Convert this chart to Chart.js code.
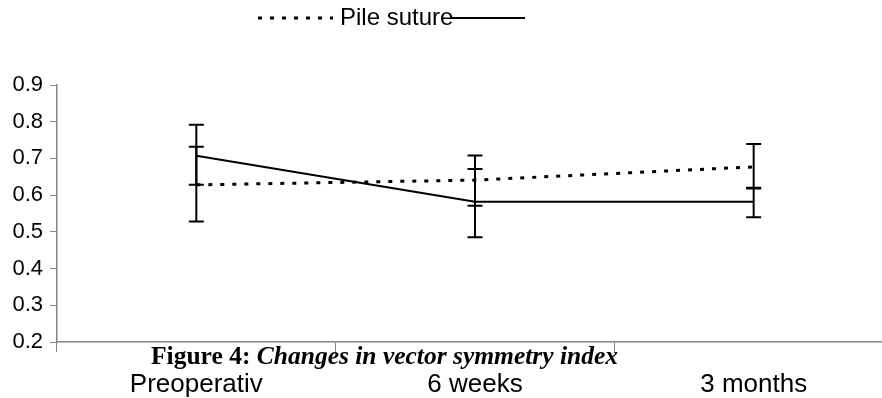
<!DOCTYPE html>
<html>
<head>
<meta charset="utf-8">
<script src="https://cdn.jsdelivr.net/npm/chart.js@4"></script>
<style>
  html, body { margin: 0; padding: 0; background: #fff; overflow: hidden; }
  #wrap { width: 893px; height: 398px; position: relative; }
</style>
</head>
<body>
<div id="wrap"><canvas id="vsi-chart"></canvas></div>
<script>
// categories and values
const categories = ['Preoperativ', '6 weeks', '3 months'];
const yTicks = [0.2, 0.3, 0.4, 0.5, 0.6, 0.7, 0.8, 0.9];

const pileValues = [0.628, 0.641, 0.677];
const pileHigh = [0.732, 0.708, 0.739];
const pileLow = [0.528, 0.571, 0.618];

const otherValues = [0.707, 0.582, 0.582];
const otherHigh = [0.792, 0.671, 0.620];
const otherLow = [0.628, 0.485, 0.540];

const captionBold = 'Figure 4: ';
const captionItalic = 'Changes in vector symmetry index';

const axisGrey = '#858585';

// error bars, drawn through the y scale
const errorBars = {
    id: 'errorBars',
    afterDatasetsDraw(chart) {
        const ctx = chart.ctx;
        const y = chart.scales.y;
        ctx.save();
        ctx.strokeStyle = '#000';
        ctx.lineWidth = 2;
        ctx.setLineDash([]);
        chart.data.datasets.forEach((ds, i) => {
            const meta = chart.getDatasetMeta(i);
            meta.data.forEach((pt, j) => {
                const top = y.getPixelForValue(ds.errHigh[j]);
                const bot = y.getPixelForValue(ds.errLow[j]);
                ctx.beginPath();
                ctx.moveTo(pt.x, top);
                ctx.lineTo(pt.x, bot);
                ctx.moveTo(pt.x - 7.5, top);
                ctx.lineTo(pt.x + 7.5, top);
                ctx.moveTo(pt.x - 7.5, bot);
                ctx.lineTo(pt.x + 7.5, bot);
                ctx.stroke();
            });
        });
        ctx.restore();
    }
};

// legend line samples + label, and the figure caption
const legendAndCaption = {
    id: 'legendAndCaption',
    afterDraw(chart) {
        const ctx = chart.ctx;
        const dsA = chart.data.datasets[0];
        const dsB = chart.data.datasets[1];
        const ly = 18;
        ctx.save();
        ctx.strokeStyle = '#000';
        ctx.lineWidth = dsA.borderWidth;
        ctx.setLineDash(dsA.borderDash);
        ctx.beginPath();
        ctx.moveTo(258, ly);
        ctx.lineTo(333, ly);
        ctx.stroke();

        ctx.font = '24px "Liberation Sans", Arial, sans-serif';
        ctx.fillStyle = '#000';
        ctx.textBaseline = 'middle';
        ctx.fillText(dsA.label, 340, ly);
        const tw = ctx.measureText(dsA.label).width;

        ctx.lineWidth = dsB.borderWidth;
        ctx.setLineDash([]);
        ctx.beginPath();
        ctx.moveTo(340 + tw - 2, ly);
        ctx.lineTo(525, ly);
        ctx.stroke();

        // caption
        ctx.textBaseline = 'alphabetic';
        const base = chart.chartArea.bottom + 22;
        ctx.font = 'bold 25.5px "Liberation Serif", "Times New Roman", serif';
        ctx.fillText(captionBold, 151, base);
        const bw = ctx.measureText(captionBold).width;
        ctx.font = 'italic bold 25.5px "Liberation Serif", "Times New Roman", serif';
        ctx.fillText(captionItalic, 151 + bw, base);
        ctx.restore();
    }
};

const chart = new Chart(document.getElementById('vsi-chart'), {
    type: 'line',
    data: {
        labels: categories,
        datasets: [{
            label: 'Pile suture',
            data: pileValues,
            errHigh: pileHigh,
            errLow: pileLow,
            borderColor: '#000',
            borderWidth: 3,
            borderDash: [4, 8],
            pointRadius: 0,
            tension: 0,
            fill: false
        }, {
            label: '',
            data: otherValues,
            errHigh: otherHigh,
            errLow: otherLow,
            borderColor: '#000',
            borderWidth: 2,
            pointRadius: 0,
            tension: 0,
            fill: false
        }]
    },
    options: {
        responsive: true,
        maintainAspectRatio: false,
        animation: false,
        layout: { padding: { top: 85, left: 0, right: 0, bottom: 0 } },
        plugins: {
            legend: { display: false },
            tooltip: { enabled: false }
        },
        scales: {
            x: {
                type: 'category',
                offset: true,
                afterFit(scale) { scale.height = 56; },
                grid: {
                    offset: true,
                    drawOnChartArea: false,
                    drawTicks: true,
                    tickLength: 10,
                    color: axisGrey
                },
                border: { color: axisGrey, width: 1.5 },
                ticks: {
                    color: '#000',
                    padding: 17,
                    maxRotation: 0,
                    font: { family: '"Liberation Sans", Arial, sans-serif', size: 26 }
                }
            },
            y: {
                min: 0.2,
                max: 0.9,
                afterFit(scale) { scale.width = 57; },
                afterBuildTicks(scale) { scale.ticks = yTicks.map(v => ({ value: v })); },
                grid: {
                    drawOnChartArea: false,
                    tickLength: 7,
                    color: axisGrey
                },
                border: { color: axisGrey, width: 1.5 },
                ticks: {
                    color: '#000',
                    padding: 7,
                    callback: v => v.toFixed(1),
                    font: { family: '"Liberation Sans", Arial, sans-serif', size: 22 }
                }
            }
        }
    },
    plugins: [errorBars, legendAndCaption]
});
</script>
</body>
</html>
